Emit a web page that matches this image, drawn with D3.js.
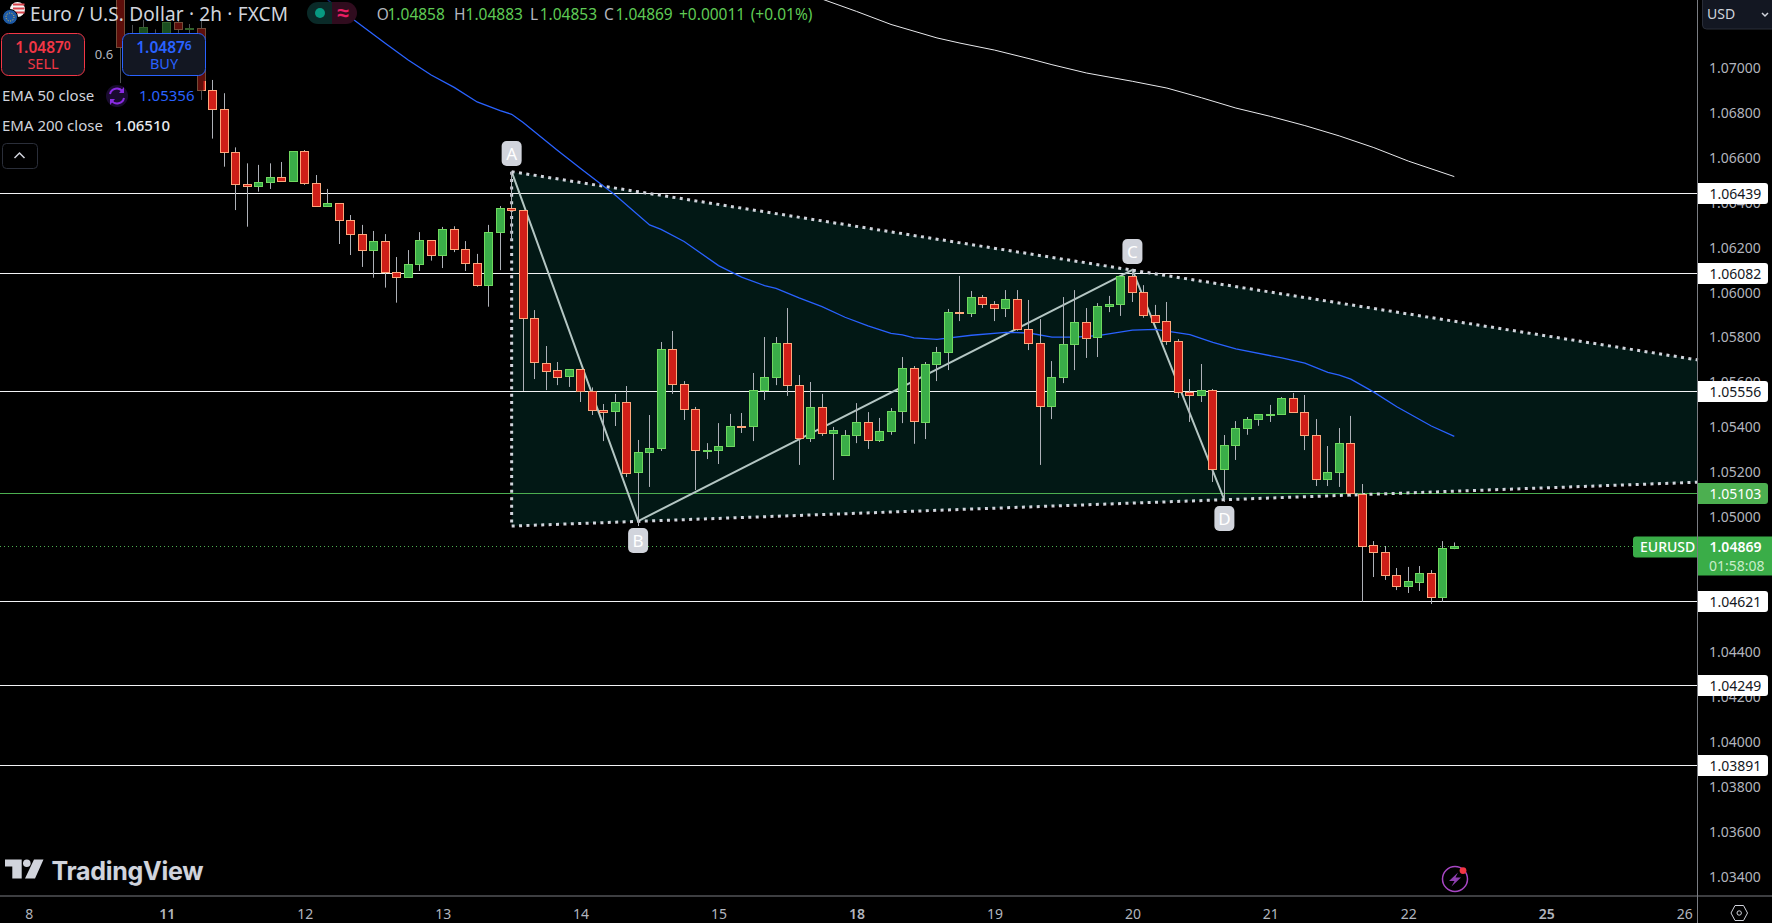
<!DOCTYPE html>
<html><head><meta charset="utf-8">
<script src="https://cdnjs.cloudflare.com/ajax/libs/d3/7.8.5/d3.min.js"></script>
<style>html,body{margin:0;padding:0;background:#000;overflow:hidden}svg{display:block}text{font-family:"Noto Sans",sans-serif}</style>
</head><body><div id="c"></div>
<script>
const opens=[1.07386,1.07150,1.07119,1.07137,1.07137,1.07198,1.07166,1.07171,1.06895,1.06810,1.06619,1.06477,1.06466,1.06484,1.06508,1.06488,1.06623,1.06481,1.06377,1.06392,1.06316,1.06254,1.06181,1.06223,1.06085,1.06061,1.06119,1.06227,1.06159,1.06276,1.06187,1.06125,1.06025,1.06261,1.06370,1.06361,1.05880,1.05683,1.05649,1.05620,1.05653,1.05555,1.05472,1.05465,1.05507,1.05193,1.05284,1.05300,1.05742,1.05587,1.05475,1.05290,1.05291,1.05309,1.05401,1.05398,1.05558,1.05616,1.05769,1.05583,1.05345,1.05484,1.05367,1.05269,1.05358,1.05418,1.05336,1.05376,1.05465,1.05658,1.05420,1.05674,1.05727,1.05908,1.05901,1.05974,1.05943,1.05923,1.05965,1.05831,1.05769,1.05487,1.05616,1.05763,1.05863,1.05794,1.05932,1.05941,1.06067,1.05996,1.05894,1.05867,1.05778,1.05551,1.05536,1.05560,1.05207,1.05314,1.05389,1.05429,1.05451,1.05451,1.05524,1.05462,1.05360,1.05162,1.05193,1.05324,1.05100,1.04870,1.04839,1.04737,1.04686,1.04708,1.04746,1.04637,1.04858];
const highs=[1.07408,1.07186,1.07208,1.07166,1.07198,1.07212,1.07190,1.07217,1.06941,1.06882,1.06641,1.06570,1.06563,1.06570,1.06576,1.06623,1.06629,1.06518,1.06456,1.06392,1.06340,1.06296,1.06269,1.06255,1.06153,1.06184,1.06264,1.06227,1.06287,1.06290,1.06224,1.06167,1.06296,1.06380,1.06533,1.06362,1.05917,1.05757,1.05686,1.05653,1.05653,1.05573,1.05499,1.05544,1.05579,1.05339,1.05450,1.05775,1.05824,1.05601,1.05486,1.05325,1.05414,1.05455,1.05459,1.05637,1.05797,1.05797,1.05926,1.05628,1.05597,1.05544,1.05397,1.05383,1.05503,1.05463,1.05437,1.05481,1.05708,1.05668,1.05686,1.05753,1.05922,1.06069,1.06002,1.05984,1.05957,1.06006,1.06006,1.05962,1.05877,1.05690,1.05975,1.06006,1.05926,1.05948,1.05980,1.06069,1.06095,1.06028,1.05940,1.05953,1.05788,1.05610,1.05677,1.05566,1.05361,1.05423,1.05441,1.05453,1.05495,1.05530,1.05548,1.05539,1.05432,1.05312,1.05392,1.05446,1.05143,1.04889,1.04867,1.04769,1.04774,1.04778,1.04760,1.04889,1.04883];
const lows=[1.06927,1.07074,1.07097,1.07097,1.07119,1.07150,1.07137,1.06852,1.06680,1.06555,1.06362,1.06288,1.06444,1.06456,1.06488,1.06488,1.06474,1.06377,1.06377,1.06211,1.06162,1.06109,1.06061,1.06017,1.05950,1.06061,1.06091,1.06137,1.06104,1.06175,1.06091,1.06021,1.05932,1.06095,1.06229,1.05557,1.05610,1.05561,1.05583,1.05575,1.05508,1.05450,1.05334,1.05401,1.05174,1.04956,1.05130,1.05290,1.05544,1.05428,1.05116,1.05254,1.05232,1.05309,1.05370,1.05334,1.05517,1.05583,1.05535,1.05228,1.05330,1.05357,1.05161,1.05269,1.05325,1.05299,1.05330,1.05362,1.05414,1.05322,1.05343,1.05601,1.05650,1.05868,1.05886,1.05926,1.05868,1.05886,1.05825,1.05739,1.05228,1.05432,1.05592,1.05650,1.05704,1.05708,1.05908,1.05891,1.05953,1.05883,1.05865,1.05762,1.05526,1.05419,1.05508,1.05152,1.05064,1.05250,1.05362,1.05402,1.05419,1.05451,1.05460,1.05294,1.05134,1.05134,1.05130,1.05086,1.04619,1.04729,1.04716,1.04671,1.04658,1.04667,1.04609,1.04619,1.04853];
const closes=[1.07086,1.07119,1.07175,1.07119,1.07198,1.07165,1.07171,1.06893,1.06810,1.06619,1.06477,1.06466,1.06486,1.06508,1.06488,1.06623,1.06481,1.06377,1.06392,1.06315,1.06252,1.06181,1.06223,1.06083,1.06061,1.06121,1.06227,1.06159,1.06276,1.06186,1.06123,1.06025,1.06263,1.06370,1.06359,1.05880,1.05683,1.05649,1.05620,1.05653,1.05555,1.05469,1.05465,1.05507,1.05193,1.05284,1.05302,1.05742,1.05585,1.05474,1.05291,1.05294,1.05311,1.05400,1.05397,1.05560,1.05618,1.05769,1.05581,1.05345,1.05484,1.05367,1.05382,1.05360,1.05418,1.05336,1.05378,1.05467,1.05658,1.05420,1.05676,1.05729,1.05907,1.05905,1.05974,1.05941,1.05923,1.05965,1.05830,1.05767,1.05487,1.05618,1.05765,1.05863,1.05794,1.05934,1.05943,1.06067,1.05994,1.05892,1.05865,1.05776,1.05549,1.05536,1.05560,1.05207,1.05315,1.05391,1.05431,1.05453,1.05454,1.05524,1.05460,1.05358,1.05162,1.05195,1.05324,1.05100,1.04868,1.04837,1.04735,1.04686,1.04710,1.04746,1.04637,1.04857,1.04869];

const ema200Bars=[61,64,67,71,73,76,79,81,84,88,91,94,97,100,103,106,109,112,116];
const ema200=[1.07301,1.07246,1.07188,1.07128,1.07105,1.07074,1.07036,1.07009,1.06972,1.06935,1.06905,1.06862,1.06816,1.06779,1.06738,1.06692,1.06640,1.06580,1.06511];
const ema50Bars=[18,20,23,25,27,29,31,33,34,35,38,40,43,46,47,49,52,54,56,57,59,61,63,65,67,68,69,71,74,77,79,81,83,85,88,90,93,95,97,101,103,105,106,107,109,111,114,116];
const ema50=[1.07297,1.07219,1.07104,1.07030,1.06963,1.06908,1.06843,1.06805,1.06788,1.06752,1.06627,1.06547,1.06429,1.06296,1.06276,1.06222,1.06115,1.06064,1.06026,1.06014,1.05971,1.05932,1.05885,1.05847,1.05813,1.05807,1.05793,1.05787,1.05805,1.05818,1.05815,1.05797,1.05797,1.05803,1.05828,1.05831,1.05808,1.05773,1.05744,1.05704,1.05681,1.05640,1.05628,1.05610,1.05552,1.05487,1.05401,1.05355];

const whiteLevels=[1.06439,1.06082,1.05556,1.04621,1.04249,1.03891];
const greenLevel=1.05103;
const lastPrice=1.04869;

const patternLabels=["A","B","C","D"];
const patternBars=[34,45,88,96];
const patternPrices=[1.06533,1.04978,1.06096,1.05072];
const edgeBar=137.2;
const upperBars=[34,edgeBar];
const upperPrices=[1.06533,1.05695];
const lowerBars=[34,edgeBar];
const lowerPrices=[1.04956,1.05151];

const yTicks=[1.07,1.068,1.066,1.064,1.062,1.06,1.058,1.056,1.054,1.052,1.05,1.048,1.046,1.044,1.042,1.04,1.038,1.036,1.034];
const hiddenTick=[1.048,1.046];
const dayLabels=["8","11","12","13","14","15","18","19","20","21","22","25","26"];
const dayBars=[-8,4,16,28,40,52,64,76,88,100,112,124,136];
const boldDays=["11","18","25"];

const W=1772,H=923,AX=1697.5,BY=896;
const C={up:"#3aad48",upB:"#6fd85f",dn:"#cf1f18",dnB:"#ffa77c",wick:"#aeb1b8",fill:"#021815",txt:"#d1d4dc",axis:"#b2b5be",line:"#7a7c82",green:"#4caf50",blue:"#2962ff",red:"#f23645",panel:"#131722"};

const svg=d3.select("#c").append("svg").attr("width",W).attr("height",H).attr("viewBox",`0 0 ${W} ${H}`);
svg.append("rect").attr("width",W).attr("height",H).attr("fill","#000");
const x=d3.scaleLinear().domain([0,116]).range([120.8,1454.3]);
const y=d3.scaleLinear().domain([1.07,1.034]).range([66.7,875.7]);
const crisp=v=>Math.round(v-.5)+.5;
const ycrisp=v=>Math.round(v)+.5;

// axes
const yAxis=d3.axisRight(y).tickValues(yTicks.filter(t=>!hiddenTick.includes(t))).tickFormat(d3.format(".5f")).tickSize(0).tickPadding(11.5);
const gy=svg.append("g").attr("transform",`translate(${AX},0)`).call(yAxis);
gy.select(".domain").remove();
gy.selectAll("text").attr("fill",C.axis).attr("dy","0.4em").style("font-size","14px").style("font-family",'"Noto Sans",sans-serif');

const xLab=d3.scaleOrdinal().domain(dayBars).range(dayLabels);
const xAxis=d3.axisBottom(d3.scaleLinear().domain(x.domain()).range(x.range())).tickValues(dayBars).tickFormat(d=>xLab(d)).tickSize(0).tickPadding(13);
const gx=svg.append("g").attr("transform",`translate(0,${BY})`).call(xAxis);
gx.select(".domain").remove();
gx.selectAll("text").attr("fill",C.axis).style("font-size","14px").style("font-family",'"Noto Sans",sans-serif')
  .style("font-weight",function(){return boldDays.includes(this.textContent)?600:400});

// pattern fill
const upperPts=upperBars.map((b,i)=>[x(b),y(upperPrices[i])]);
const lowerPts=lowerBars.map((b,i)=>[x(b),y(lowerPrices[i])]);
svg.append("polygon").attr("points",[upperPts[0],upperPts[1],lowerPts[1],lowerPts[0]].map(p=>p.join(",")).join(" ")).attr("fill",C.fill);

// horizontal levels
svg.selectAll("line.lv").data(whiteLevels).join("line").attr("class","lv").attr("x1",0).attr("x2",AX)
  .attr("y1",d=>ycrisp(y(d))).attr("y2",d=>ycrisp(y(d))).attr("stroke","#f2f3f5").attr("stroke-width",1);
svg.append("line").attr("x1",0).attr("x2",AX).attr("y1",ycrisp(y(greenLevel))).attr("y2",ycrisp(y(greenLevel))).attr("stroke",C.green).attr("stroke-width",1);
svg.append("line").attr("x1",0).attr("x2",1633).attr("y1",ycrisp(y(lastPrice))).attr("y2",ycrisp(y(lastPrice))).attr("stroke",C.green).attr("stroke-width",1).attr("stroke-dasharray","1 3");

// pattern lines
const ln=d3.line();
svg.append("path").attr("d",ln(patternBars.map((b,i)=>[x(b),y(patternPrices[i])]))).attr("fill","none").attr("stroke","#b4c6c3").attr("stroke-width",2);
const dotted=g=>g.attr("fill","none").attr("stroke","#d1d4dc").attr("stroke-width",3).attr("stroke-dasharray","3 4.4");
svg.append("path").attr("d",ln(upperPts)).call(dotted);
svg.append("path").attr("d",ln(lowerPts)).call(dotted);
svg.append("path").attr("d",ln([upperPts[0],lowerPts[0]])).call(dotted);

// EMAs
svg.append("path").attr("d",d3.line().x(d=>x(d[0])).y(d=>y(d[1]))(ema200Bars.map((b,i)=>[b,ema200[i]]))).attr("fill","none").attr("stroke","#e8e9ec").attr("stroke-width",1);
svg.append("path").attr("d",d3.line().x(d=>x(d[0])).y(d=>y(d[1]))(ema50Bars.map((b,i)=>[b,ema50[i]]))).attr("fill","none").attr("stroke",C.blue).attr("stroke-width",1.3);

// candles
const bars=opens.map((o,i)=>({i,o,h:highs[i],l:lows[i],c:closes[i]}));
svg.selectAll("line.wk").data(bars).join("line").attr("class","wk").attr("stroke",C.wick).attr("stroke-width",1)
  .attr("x1",d=>crisp(x(d.i))).attr("x2",d=>crisp(x(d.i))).attr("y1",d=>y(d.h)).attr("y2",d=>y(d.l));
svg.selectAll("rect.bd").data(bars).join("rect").attr("class","bd")
  .attr("x",d=>crisp(x(d.i))-4).attr("width",8)
  .attr("y",d=>ycrisp(y(Math.max(d.o,d.c))))
  .attr("height",d=>Math.max(1,Math.round(Math.abs(y(d.o)-y(d.c)))))
  .attr("fill",d=>d.c>=d.o?C.up:C.dn).attr("stroke",d=>d.c>=d.o?C.upB:C.dnB).attr("stroke-width",1);

// pattern labels
const lblBoxY={A:153.5,B:540.5,C:251.5,D:518.5};
const lg=svg.selectAll("g.pl").data(patternLabels).join("g").attr("class","pl").attr("transform",(d,i)=>`translate(${x(patternBars[i])},${lblBoxY[d]})`);
lg.append("rect").attr("x",-10).attr("y",-12.5).attr("width",20).attr("height",25).attr("rx",5).attr("fill","#d1d4dc");
lg.append("text").attr("text-anchor","middle").attr("y",6).attr("fill","#fff").style("font-size","17px").text(d=>d);

// dim legend overlay
svg.append("rect").attr("x",0).attr("y",0).attr("width",207).attr("height",81).attr("fill","#000").attr("opacity",.55);
svg.append("rect").attr("x",0).attr("y",81).attr("width",203.5).attr("height",19).attr("fill","#000").attr("opacity",.55);
svg.append("rect").attr("x",292).attr("y",0).attr("width",60).attr("height",26).attr("fill","#000").attr("opacity",.55);

// frame lines
svg.append("line").attr("x1",AX).attr("x2",AX).attr("y1",0).attr("y2",H).attr("stroke",C.line);
svg.append("line").attr("x1",0).attr("x2",W).attr("y1",BY).attr("y2",BY).attr("stroke",C.line);

// price labels
const fmt=d3.format(".5f");
const tag=(v,fill,col)=>{const cy=ycrisp(y(v));
  svg.append("path").attr("d",`M${AX+.5},${cy-10.5}H1765a3,3 0 0 1 3,3V${cy+7.5}a3,3 0 0 1 -3,3H${AX+.5}Z`).attr("fill",fill);
  svg.append("text").attr("x",1709.5).attr("y",cy+5.5).attr("fill",col).style("font-size","14px").text(fmt(v));};
whiteLevels.forEach(v=>tag(v,"#fff","#131722"));
tag(greenLevel,C.green,"#fff");
const ly=ycrisp(y(lastPrice));
svg.append("rect").attr("x",AX+.5).attr("y",ly-10).attr("width",W-AX).attr("height",39).attr("fill",C.up);
svg.append("text").attr("x",1709.5).attr("y",ly+5.5).attr("fill","#fff").style("font-size","14px").style("font-weight",600).text(fmt(lastPrice));
svg.append("text").attr("x",1709).attr("y",ly+24.5).attr("fill","#c9ecc9").style("font-size","14px").text("01:58:08");
svg.append("path").attr("d",`M1697,${ly-10}H1636a3,3 0 0 0 -3,3V${ly+8}a3,3 0 0 0 3,3H1697Z`).attr("fill",C.up);
svg.append("text").attr("x",1640).attr("y",ly+5.5).attr("fill","#fff").style("font-size","14px").style("font-weight",500).text("EURUSD");

// USD button
svg.append("path").attr("d","M1702.5,-1V25a4,4 0 0 0 4,4H1773V-1Z").attr("fill",C.panel).attr("stroke","#2a2e39");
svg.append("text").attr("x",1707).attr("y",19).attr("fill",C.txt).style("font-size","14px").text("USD");
svg.append("path").attr("d","M1762,13l3,3l3,-3").attr("fill","none").attr("stroke",C.txt).attr("stroke-width",1.5);

// settings hexagon
svg.append("path").attr("d","M1731,913l4,-7.5h8.5l4,7.5l-4,7.5h-8.5Z").attr("fill","none").attr("stroke",C.txt).attr("stroke-width",1);
svg.append("circle").attr("cx",1739.2).attr("cy",913).attr("r",2.2).attr("fill","none").attr("stroke",C.txt);

// header
svg.append("circle").attr("cx",17.5).attr("cy",9.5).attr("r",7.5).attr("fill","#f4f4f4");
[3.5,7.5,11.5].forEach(v=>svg.append("rect").attr("x",13).attr("y",v).attr("width",11.5).attr("height",2).attr("fill","#d8424a"));
svg.append("circle").attr("cx",10).attr("cy",17).attr("r",7.5).attr("fill","#1d5aa6").attr("stroke","#000");
svg.append("circle").attr("cx",10).attr("cy",17).attr("r",4).attr("fill","none").attr("stroke","#f3c744").attr("stroke-width",1).attr("stroke-dasharray","1 1.5");
svg.append("text").attr("x",30).attr("y",21).attr("fill",C.txt).style("font-size","19px").attr("textLength",258).text("Euro / U.S. Dollar · 2h · FXCM");
svg.append("path").attr("d","M332,2H318a11,11 0 0 0 0,22H332Z").attr("fill","#0a2a28");
svg.append("path").attr("d","M332,2H346a11,11 0 0 1 0,22H332Z").attr("fill","#300c1e");
svg.append("circle").attr("cx",320).attr("cy",13).attr("r",5).attr("fill","#089981");
svg.append("text").attr("x",343).attr("y",20).attr("text-anchor","middle").attr("fill","#e91e63").style("font-size","21px").style("font-weight",700).text("≈");

const ohlcLabels=[["O",376.8,"#b2b5be"],["1.04858",387.5,"#5fcb55"],["H",454,"#b2b5be"],["1.04883",465.6,"#5fcb55"],["L",530,"#b2b5be"],["1.04853",539.7,"#5fcb55"],["C",604,"#b2b5be"],["1.04869",615.4,"#5fcb55"],["+0.00011",679,"#5fcb55"],["(+0.01%)",750.7,"#5fcb55"]];
ohlcLabels.forEach(d=>svg.append("text").attr("x",d[1]).attr("y",19.5).attr("fill",d[2]).style("font-size","15.5px").text(d[0]));

// sell / buy
const sb=(xx,w,col,big,small,lab)=>{
  svg.append("rect").attr("x",xx+.5).attr("y",33.5).attr("width",w).attr("height",42).attr("rx",7).attr("fill",C.panel).attr("stroke",col);
  const t=svg.append("text").attr("x",xx+w/2+.5).attr("y",52.5).attr("text-anchor","middle").attr("fill",col).style("font-size","15.5px").style("font-weight",600);
  t.append("tspan").text(big);t.append("tspan").attr("dy",-3).style("font-size","12px").text(small);
  svg.append("text").attr("x",xx+w/2+.5).attr("y",69).attr("text-anchor","middle").attr("fill",col).style("font-size","14.5px").text(lab);};
sb(1,83,C.red,"1.0487","0","SELL");
sb(122,83,C.blue,"1.0487","6","BUY");
svg.append("text").attr("x",104).attr("y",58.5).attr("text-anchor","middle").attr("fill",C.axis).style("font-size","13px").text("0.6");

// EMA legend
svg.append("text").attr("x",2).attr("y",101).attr("fill",C.txt).style("font-size","15px").text("EMA 50 close");
svg.append("circle").attr("cx",117).attr("cy",96).attr("r",11).attr("fill","#1a0b30");
svg.append("path").attr("d","M110,94a7,7 0 0 1 12.5,-2.5M124,98a7,7 0 0 1 -12.5,2.5").attr("fill","none").attr("stroke","#8a2be2").attr("stroke-width",2);
svg.append("path").attr("d","M124,87v6h-5ZM110,105v-6h5Z").attr("fill","#8a2be2");
svg.append("text").attr("x",139).attr("y",101).attr("fill",C.blue).style("font-size","15px").text("1.05356");
svg.append("text").attr("x",2).attr("y",131).attr("fill",C.txt).style("font-size","15px").text("EMA 200 close");
svg.append("text").attr("x",114.5).attr("y",131).attr("fill","#e8eaee").style("font-size","15px").style("font-weight",500).text("1.06510");
svg.append("rect").attr("x",2.5).attr("y",143.5).attr("width",35).attr("height",25).attr("rx",4).attr("fill","#000").attr("stroke","#2a2e39");
svg.append("path").attr("d","M14.5,158l5,-5l5,5").attr("fill","none").attr("stroke","#d1d4dc").attr("stroke-width",1.5);

// TradingView logo
svg.append("path").attr("d","M5,859.5H21.7V878.5H12.3V866.5H5ZM34,859.5H43.5L35,878.5H25Z").attr("fill","#d1d4dc");
svg.append("circle").attr("cx",26.8).attr("cy",863.2).attr("r",3.8).attr("fill","#d1d4dc");
svg.append("text").attr("x",51.5).attr("y",880).attr("fill","#d1d4dc").attr("stroke","#1e222d").attr("stroke-width",.6).attr("paint-order","stroke")
  .style("font-family","Inter,sans-serif").style("font-size","25px").style("font-weight",700).attr("textLength",152).text("TradingView");

// lightning
svg.append("circle").attr("cx",1455).attr("cy",879).attr("r",12.5).attr("fill","#000").attr("stroke","#a846c4").attr("stroke-width",1.5);
svg.append("path").attr("d","M1458,872.5L1449,881H1454.5L1451.5,886.5L1461,877.5H1455.5Z").attr("fill","#8f3fb0");
svg.append("circle").attr("cx",1463).attr("cy",870.6).attr("r",3.4).attr("fill","#f23645");
</script></body></html>
